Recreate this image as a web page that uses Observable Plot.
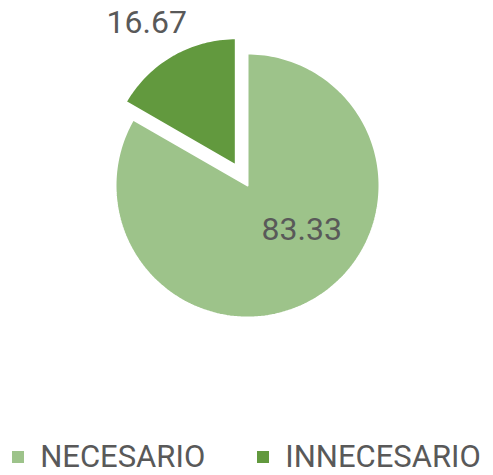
<!DOCTYPE html>
<html>
<head>
<meta charset="utf-8">
<script src="https://cdn.jsdelivr.net/npm/d3@7"></script>
<script src="https://cdn.jsdelivr.net/npm/@observablehq/plot@0.6"></script>
<style>
  html, body { margin: 0; padding: 0; background: #fff; }
  #chart { width: 493px; }
  .legend { display: flex; justify-content: center; align-items: center; gap: 52px;
            font-family: Roboto, sans-serif; font-size: 31px; color: #595959;
            line-height: 36px; padding-top: 9px; }
  .legend .item { display: flex; align-items: center; gap: 16px; }
  .legend .sw { width: 12px; height: 12px; display: inline-block; }
</style>
</head>
<body>
<div id="chart"></div>
<script>
// ---- data ----
const categories = ["NECESARIO", "INNECESARIO"];
const values = [83.33, 16.67];
const labels = ["83.33", "16.67"];
const colors = ["#9DC38A", "#62993E"];

// ---- layout constants (styling) ----
const W = 493, H = 430;
const explode = {"NECESARIO": 0, "INNECESARIO": 0.177};
const radius = {"NECESARIO": 1, "INNECESARIO": 0.962};
const labelDist = {"NECESARIO": 0.55, "INNECESARIO": 1.42};
const labelShift = {"NECESARIO": [18, -19], "INNECESARIO": [-7, 0]};

const rows = categories.map((c, i) => ({name: c, value: values[i], label: labels[i]}));
const arcs = d3.pie().sort(null).value(d => d.value)(rows);

// polygon points for each slice, computed from pie angles
const points = [];
const labelRows = [];
for (const a of arcs) {
  const n = a.data.name;
  const mid = (a.startAngle + a.endAngle) / 2;
  const ox = explode[n] * Math.sin(mid), oy = explode[n] * Math.cos(mid);
  const r = radius[n];
  points.push({name: n, x: ox, y: oy});
  const steps = Math.max(4, Math.ceil((a.endAngle - a.startAngle) / (2 * Math.PI) * 240));
  for (let k = 0; k <= steps; k++) {
    const t = a.startAngle + (a.endAngle - a.startAngle) * k / steps;
    points.push({name: n, x: ox + r * Math.sin(t), y: oy + r * Math.cos(t)});
  }
  points.push({name: n, x: ox, y: oy});
  labelRows.push({name: n, label: a.data.label,
    x: labelDist[n] * Math.sin(mid), y: labelDist[n] * Math.cos(mid)});
}

const plot = Plot.plot({
  width: W, height: H,
  margin: 0,
  x: {domain: [-1, 1], range: [115, 379], axis: null},
  y: {domain: [-1, 1], range: [317, 53], axis: null},
  color: {domain: categories, range: colors},
  style: {background: "#fff"},
  marks: [
    Plot.line(points, {x: "x", y: "y", z: "name", fill: "name", stroke: "white", strokeWidth: 2, curve: "linear"}),
    ...labelRows.map(d => Plot.text([d], {x: "x", y: "y", text: "label",
      dx: labelShift[d.name][0], dy: labelShift[d.name][1],
      fontSize: 32, fill: "#595959", fontFamily: "Roboto, sans-serif"}))
  ]
});
document.getElementById("chart").appendChild(plot);

const legend = document.createElement("div");
legend.className = "legend";
categories.forEach((c, i) => {
  const item = document.createElement("div");
  item.className = "item";
  const sw = document.createElement("span");
  sw.className = "sw";
  sw.style.background = colors[i];
  const t = document.createElement("span");
  t.textContent = c;
  item.appendChild(sw); item.appendChild(t);
  legend.appendChild(item);
});
document.getElementById("chart").appendChild(legend);
</script>
</body>
</html>
